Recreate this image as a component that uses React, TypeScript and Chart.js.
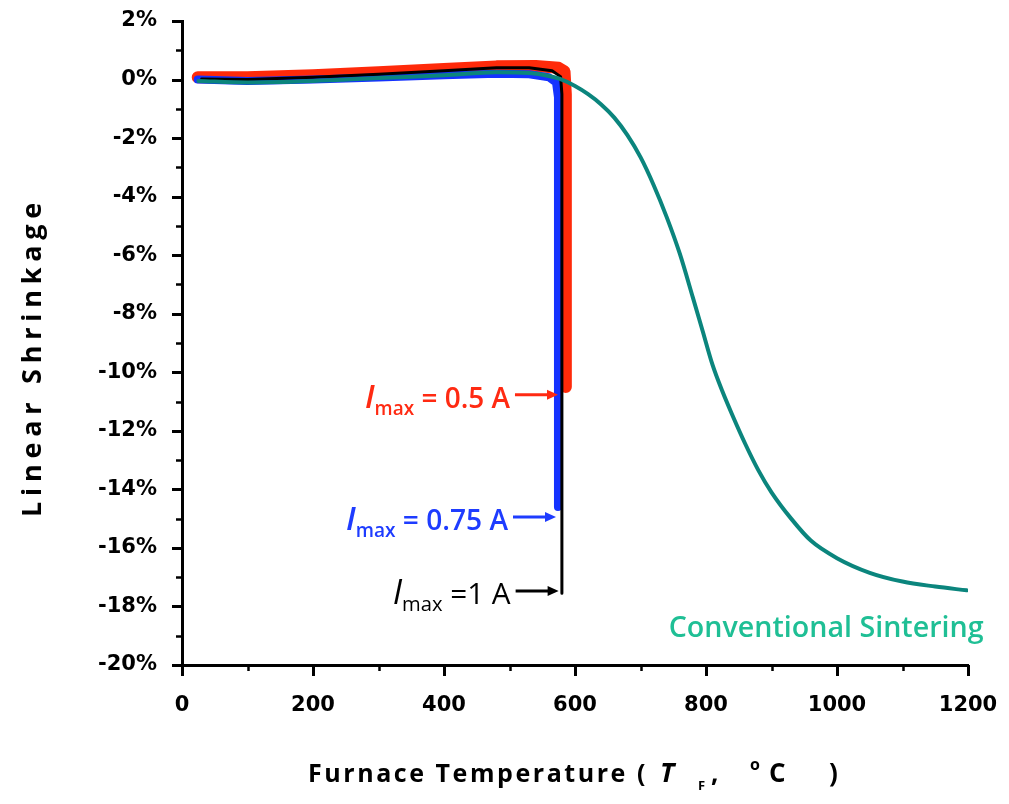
import React, { useEffect, useRef } from "react";
import { Chart, registerables } from "chart.js";
Chart.register(...registerables);

// Conventional sintering (teal)
const tealT = [25, 100, 200, 300, 400, 480, 530, 560, 577, 600, 620, 640, 660, 680, 700, 720, 740, 760, 780, 795, 810, 825, 840, 860, 880, 900, 930, 960, 1000, 1050, 1100, 1150, 1198];
const tealY = [-0.05, -0.1, -0.05, 0.05, 0.15, 0.25, 0.22, 0.12, 0.02, -0.22, -0.5, -0.85, -1.3, -1.9, -2.65, -3.6, -4.7, -5.95, -7.45, -8.6, -9.75, -10.65, -11.45, -12.45, -13.35, -14.1, -15.0, -15.75, -16.35, -16.85, -17.15, -17.32, -17.45];

// Imax = 0.5 A (red)
const redT = [24, 100, 200, 300, 400, 480, 540, 575, 584, 586, 586];
const redY = [0.08, 0.08, 0.15, 0.25, 0.36, 0.45, 0.46, 0.4, 0.28, -0.5, -10.5];

// Imax = 0.75 A (blue)
const blueT = [24, 100, 200, 300, 400, 480, 530, 560, 571, 574, 574];
const blueY = [0.0, -0.05, 0.0, 0.07, 0.15, 0.2, 0.18, 0.08, -0.1, -0.6, -14.6];

// Imax = 1 A (black)
const blackT = [30, 100, 200, 300, 400, 480, 530, 565, 578, 580, 580];
const blackY = [0.02, 0.0, 0.08, 0.18, 0.3, 0.4, 0.4, 0.3, 0.1, -0.5, -17.55];

// axis
const xMin = 0, xMax = 1200, xStep = 200, xMinor = 100;
const yMin = -20, yMax = 2, yStep = 2, yMinor = 1;

// annotation labels
const labelValues = ["0.5 A", "0.75 A", "1 A"];
const labelTipT = [574, 571, 575];
const labelTipY = [-10.77, -14.94, -17.47];
const labelColors = ["#ff2a12", "#1e3cff", "#000000"];
const labelWidths = [145, 162, 118];

const convLabel = "Conventional Sintering";
const convT = 743;
const convY = -18.75;

const yTitle = "Linear Shrinkage";
const xTitleParts = ["Furnace Temperature (", "T", "F", ",", "o", "C", ")"];

const pts = (xs: number[], ys: number[]) => xs.map((x, i) => ({ x, y: ys[i] }));

export default function App() {
  const ref = useRef<HTMLCanvasElement | null>(null);
  useEffect(() => {
    document.body.style.margin = "0";
    const canvas = ref.current!;
    const axisPlugin = {
      id: "axisDecor",
      afterDraw(chart: any) {
        const ctx = chart.ctx as CanvasRenderingContext2D;
        const xs = chart.scales.x;
        const ys = chart.scales.y;
        const ca = chart.chartArea;
        ctx.save();
        ctx.strokeStyle = "#000";
        ctx.lineCap = "butt";
        for (let v = yMin; v <= yMax + 1e-9; v += yMinor) {
          const major = Math.abs(v % yStep) < 1e-9;
          const py = Math.round(ys.getPixelForValue(v)) + 0.5;
          ctx.lineWidth = major ? 3 : 2.5;
          ctx.beginPath();
          ctx.moveTo(ca.left, py);
          ctx.lineTo(ca.left - (major ? 10 : 6), py);
          ctx.stroke();
        }
        for (let v = xMin; v <= xMax + 1e-9; v += xMinor) {
          const major = Math.abs(v % xStep) < 1e-9;
          const px = Math.round(xs.getPixelForValue(v)) + 0.5;
          ctx.lineWidth = major ? 3 : 2.5;
          ctx.beginPath();
          ctx.moveTo(px, ca.bottom);
          ctx.lineTo(px, ca.bottom + (major ? 11 : 6));
          ctx.stroke();
        }
        // y title, letter-spaced to fit
        ctx.fillStyle = "#000";
        ctx.font = "bold 27px 'Open Sans'";
        (ctx as any).letterSpacing = "0px";
        const w0 = ctx.measureText(yTitle).width;
        const sp = (320 - w0) / yTitle.length;
        (ctx as any).letterSpacing = `${sp}px`;
        ctx.textAlign = "left";
        ctx.textBaseline = "middle";
        ctx.save();
        ctx.translate(33, 357 + 160);
        ctx.rotate(-Math.PI / 2);
        ctx.fillText(yTitle, 0, 0);
        ctx.restore();
        // x title in pieces
        const base = 782;
        ctx.textBaseline = "alphabetic";
        ctx.font = "bold 25px 'Open Sans'";
        (ctx as any).letterSpacing = "0px";
        const m0 = ctx.measureText(xTitleParts[0]).width;
        (ctx as any).letterSpacing = `${(340 - m0) / xTitleParts[0].length}px`;
        ctx.fillText(xTitleParts[0], 308, base);
        (ctx as any).letterSpacing = "0px";
        ctx.font = "italic bold 27px 'Open Sans'";
        ctx.fillText(xTitleParts[1], 660, base);
        ctx.font = "bold 13px 'Open Sans'";
        ctx.fillText(xTitleParts[2], 698, base + 8);
        ctx.font = "bold 26px 'Open Sans'";
        ctx.fillText(xTitleParts[3], 711, base);
        ctx.font = "bold 16px 'Open Sans'";
        ctx.fillText(xTitleParts[4], 750, base - 12);
        ctx.font = "bold 26px 'Open Sans'";
        ctx.fillText(xTitleParts[5], 769, base);
        ctx.fillText(xTitleParts[6], 829, base);
        ctx.restore();
      },
      afterDatasetsDraw(chart: any) {
        const ctx = chart.ctx as CanvasRenderingContext2D;
        const xs = chart.scales.x;
        const ys = chart.scales.y;
        ctx.save();
        for (let i = 0; i < labelValues.length; i++) {
          const tipX = xs.getPixelForValue(labelTipT[i]);
          const tipY = ys.getPixelForValue(labelTipY[i]);
          const col = labelColors[i];
          const startX = tipX - 43;
          ctx.strokeStyle = col;
          ctx.fillStyle = col;
          ctx.lineWidth = 3;
          ctx.beginPath();
          ctx.moveTo(startX, tipY);
          ctx.lineTo(tipX - 9, tipY);
          ctx.stroke();
          ctx.beginPath();
          ctx.moveTo(tipX, tipY);
          ctx.lineTo(tipX - 11, tipY - 5);
          ctx.lineTo(tipX - 11, tipY + 5);
          ctx.closePath();
          ctx.fill();
          const weight = i === 2 ? "500" : "600";
          const rest = i === 2 ? " =" + labelValues[i] : " = " + labelValues[i];
          const mk = (k: number) => ({
            main: `${weight} ${25 * k}px 'Open Sans'`,
            sub: `${weight} ${17 * k}px 'Open Sans'`,
            ii: `italic ${weight} ${29 * k}px 'Open Sans'`,
          });
          const widths = (f: any) => {
            ctx.font = f.ii;
            const a = ctx.measureText("I").width;
            ctx.font = f.sub;
            const b = ctx.measureText("max").width;
            ctx.font = f.main;
            const c = ctx.measureText(rest).width;
            return [a, b, c];
          };
          const w1 = widths(mk(1));
          const k = labelWidths[i] / (w1[0] + w1[1] + w1[2]);
          const f = mk(k);
          const [wI, wSub, wRest] = widths(f);
          ctx.textBaseline = "alphabetic";
          ctx.textAlign = "left";
          let x = startX - 5 - wRest - wSub - wI;
          const base = tipY + 13;
          ctx.font = f.ii;
          ctx.fillText("I", x, base);
          x += wI;
          ctx.font = f.sub;
          ctx.fillText("max", x, base + 7);
          x += wSub;
          ctx.font = f.main;
          ctx.fillText(rest, x, base);
        }
        ctx.fillStyle = "#1fbf95";
        ctx.font = "600 25px 'Open Sans'";
        const cw = ctx.measureText(convLabel).width;
        const cs = (25 * 315) / cw;
        ctx.font = `600 ${cs}px 'Open Sans'`;
        ctx.textAlign = "left";
        ctx.textBaseline = "middle";
        ctx.fillText(convLabel, xs.getPixelForValue(convT), ys.getPixelForValue(convY));
        ctx.restore();
      },
    };

    const lineDs = (label: string, data: any[], color: string, width: number, smooth: boolean) => ({
      label,
      data,
      showLine: true,
      borderColor: color,
      backgroundColor: color,
      borderWidth: width,
      pointRadius: 0,
      borderCapStyle: "round",
      borderJoinStyle: "round",
      tension: 0,
      cubicInterpolationMode: smooth ? "monotone" : "default",
      fill: false,
    });

    const chart = new Chart(canvas, {
      type: "scatter",
      data: {
        datasets: [
          lineDs("Conventional Sintering", pts(tealT, tealY), "#0b857d", 4, true),
          lineDs("Imax = 1 A", pts(blackT, blackY), "#000000", 3, false),
          lineDs("Imax = 0.75 A", pts(blueT, blueY), "#1432ff", 8, false),
          lineDs("Imax = 0.5 A", pts(redT, redY), "#ff2a0a", 12, false),
        ] as any,
      },
      options: {
        responsive: false,
        animation: false,
        layout: { autoPadding: false, padding: { left: 0, right: 41, top: 21, bottom: 0 } },
        plugins: { legend: { display: false }, tooltip: { enabled: false } },
        scales: {
          x: {
            type: "linear",
            min: xMin,
            max: xMax,
            grid: { display: false },
            border: { display: true, color: "#000", width: 3 },
            ticks: {
              stepSize: xStep,
              padding: 20,
              color: "#000",
              font: { family: "'DejaVu Sans'", weight: "bold", size: 21 },
              callback: (v: any) => `${v}`,
            },
            afterFit: (s: any) => {
              s.height = 139;
              s.paddingLeft = 0;
              s.paddingRight = 0;
            },
          },
          y: {
            type: "linear",
            min: yMin,
            max: yMax,
            grid: { display: false },
            border: { display: true, color: "#000", width: 3 },
            ticks: {
              stepSize: yStep,
              padding: 17,
              color: "#000",
              font: { family: "'DejaVu Sans'", weight: "bold", size: 21 },
              callback: (v: any) => `${v}%`,
            },
            afterFit: (s: any) => {
              s.width = 182;
              s.paddingTop = 0;
              s.paddingBottom = 0;
            },
          },
        },
      } as any,
      plugins: [axisPlugin],
    });
    return () => chart.destroy();
  }, []);
  return <canvas ref={ref} width={1009} height={804} style={{ display: "block" }} />;
}
